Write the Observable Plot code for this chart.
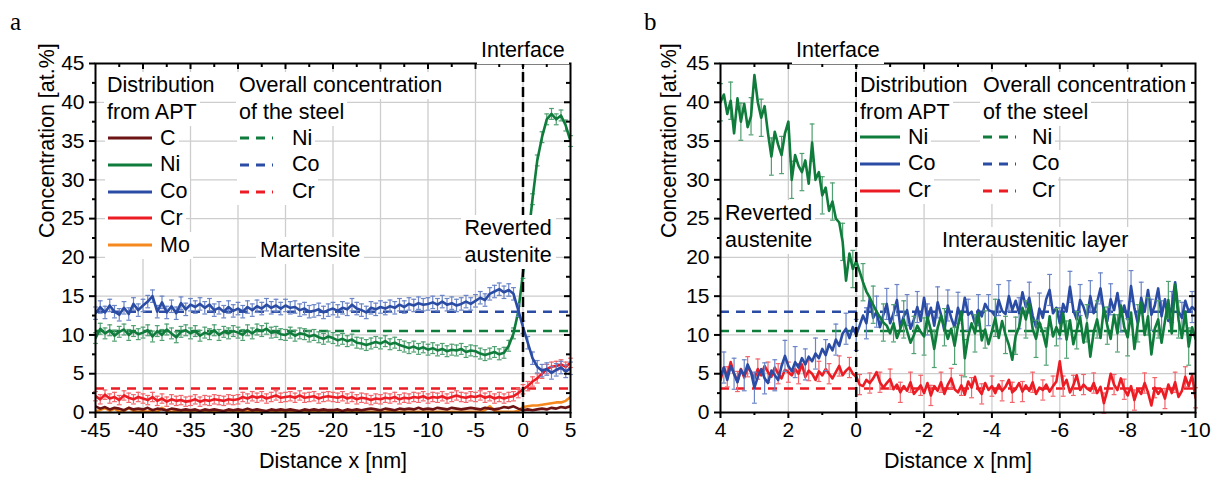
<!DOCTYPE html>
<html><head><meta charset="utf-8">
<script src="https://cdn.jsdelivr.net/npm/d3@7"></script>
<script src="https://cdn.jsdelivr.net/npm/@observablehq/plot@0.6"></script>
<style>
body{margin:0;background:#fff;font-family:"Liberation Sans",Arial,sans-serif;}
#wrap{position:relative;width:1223px;height:479px;overflow:hidden;background:#fff}
#pa{position:absolute;left:0;top:0}
#pb{position:absolute;left:611px;top:0}
.ov{position:absolute;white-space:nowrap;font-size:21.5px;line-height:27px;color:#000;}
.bg{background:#fff}
.row{display:flex;align-items:center;height:27px}
.lab{position:absolute;font-family:"Liberation Serif","Times New Roman",serif;font-size:25px;line-height:30px}
</style></head>
<body><div id="wrap"><div id="pa"></div><div id="pb"></div></div>
<script>
// ---------- ticks ----------
const xTicksA = [-45,-40,-35,-30,-25,-20,-15,-10,-5,0,5];
const xMinorA = [-42.5,-37.5,-32.5,-27.5,-22.5,-17.5,-12.5,-7.5,-2.5,2.5];
const xTicksB = [4,2,0,-2,-4,-6,-8,-10];
const xMinorB = [3,1,-1,-3,-5,-7,-9];
const yTicks = [0,5,10,15,20,25,30,35,40,45];
const yMinor = [2.5,7.5,12.5,17.5,22.5,27.5,32.5,37.5,42.5];

// ---------- colours ----------
const colors = {C:"#6d1515", Ni:"#0f7c3b", Co:"#2a4ca4", Cr:"#ec1c24", Mo:"#f5891f"};
const errColors = {C:"#9a5050", Ni:"#4f9f70", Co:"#6a84c6", Cr:"#f2646a", Mo:"#f7ad66"};

// ---------- overall concentration of the steel ----------
const overallElements = ["Ni","Co","Cr"];
const overallValues = [10.5, 13.0, 3.1];

// ---------- panel a : APT profile, x = -45 ... 5 nm, step 0.5 ----------
const xA = d3.range(101).map(i => -45 + i * 0.5);
const coA = [
 12.8,13.6,12.9,13.8,13.0,12.6,13.5,12.7,14.0,13.2,
 13.8,14.3,15.0,13.0,14.2,12.9,13.7,12.8,14.1,13.3,
 13.9,13.6,14.0,13.5,13.9,13.2,13.5,13.0,13.6,13.1,
 13.4,13.0,13.6,13.2,13.7,13.4,13.9,13.5,13.8,13.4,
 13.8,13.5,13.6,13.2,13.4,13.0,13.1,13.3,12.9,13.2,
 13.4,13.1,13.5,13.3,13.9,13.4,13.2,12.9,13.5,13.3,
 13.6,13.4,13.7,13.5,13.9,13.6,14.0,13.8,14.1,13.9,
 14.0,14.2,13.9,14.3,13.9,14.1,13.8,14.0,14.3,14.0,
 14.4,14.8,14.5,15.3,15.6,15.9,15.5,15.8,15.3,13.2,
 11.0,9.0,7.0,5.9,5.4,5.6,5.1,5.5,5.8,5.3,
 5.7];
const niA = [
 9.6,10.8,10.2,10.6,9.9,10.4,10.7,10.0,10.5,10.1,
 10.3,10.6,9.8,10.5,10.0,10.7,10.2,9.7,10.4,10.6,
 10.2,10.5,9.9,10.3,10.1,10.6,10.0,10.4,10.2,10.5,
 10.3,10.0,10.6,10.2,10.7,10.5,10.8,10.3,10.4,10.1,
 10.0,10.3,9.9,10.2,10.1,9.8,10.0,9.7,9.5,9.8,
 9.6,9.3,9.5,9.2,9.4,9.0,8.9,8.7,8.9,9.1,
 8.9,9.2,8.8,9.0,8.7,8.5,8.3,8.5,8.2,8.4,
 8.1,8.3,8.0,8.2,7.9,8.1,8.0,8.2,7.8,8.0,
 7.9,7.6,7.4,7.6,7.8,7.5,7.7,8.6,10.2,13.0,
 18.0,22.0,27.5,32.5,35.5,37.8,38.5,37.8,38.3,37.0,
 35.0];
const crA = [
 2.1,1.7,2.3,1.8,2.0,1.6,2.2,1.9,1.7,2.0,
 1.8,1.6,2.0,1.5,1.8,1.4,1.7,1.5,1.6,1.4,
 1.5,1.7,1.4,1.6,1.5,1.7,1.6,1.5,1.7,1.6,
 1.7,2.0,1.8,2.1,1.9,2.1,1.8,2.0,2.2,1.9,
 2.0,2.1,1.9,2.2,1.9,2.0,2.1,1.8,2.0,2.1,
 2.0,1.9,2.1,1.8,2.0,1.7,1.9,1.8,1.6,1.8,
 1.7,1.9,1.8,2.0,1.7,1.9,1.8,2.0,1.9,2.1,
 1.8,2.0,1.9,2.1,1.8,2.0,2.2,2.0,1.9,2.1,
 2.0,2.2,1.9,2.1,1.8,2.0,1.8,2.0,2.1,2.5,
 3.0,3.4,4.0,4.4,5.0,5.6,5.9,6.0,6.2,5.9,
 6.4];
const cA = [
 0.8,0.5,0.7,0.4,0.6,0.5,0.3,0.6,0.4,0.5,
 0.4,0.6,0.3,0.5,0.4,0.3,0.5,0.4,0.3,0.4,
 0.3,0.4,0.2,0.4,0.3,0.4,0.3,0.2,0.4,0.3,
 0.4,0.3,0.5,0.3,0.4,0.3,0.2,0.4,0.3,0.4,
 0.3,0.4,0.3,0.2,0.4,0.3,0.4,0.3,0.4,0.3,
 0.3,0.4,0.2,0.4,0.3,0.4,0.3,0.4,0.5,0.4,
 0.3,0.5,0.4,0.3,0.5,0.4,0.5,0.4,0.6,0.4,
 0.5,0.4,0.6,0.5,0.4,0.6,0.5,0.4,0.5,0.6,
 0.5,0.4,0.6,0.5,0.4,0.5,0.7,0.6,0.8,0.5,
 0.3,0.4,0.3,0.4,0.5,0.4,0.6,0.5,0.7,0.6,
 0.8];
const moA = [
 0.2,0.3,0.6,0.2,0.5,0.1,0.2,0.6,0.2,0.1,
 0.2,0.1,0.3,0.1,0.6,0.2,0.1,0.2,0.1,0.1,
 0.1,0.2,0.1,0.1,0.2,0.1,0.1,0.1,0.3,0.1,
 0.1,0.1,0.2,0.1,0.1,0.1,0.1,0.1,0.1,0.1,
 0.1,0.1,0.1,0.1,0.2,0.1,0.1,0.1,0.1,0.1,
 0.1,0.1,0.1,0.1,0.1,0.1,0.1,0.1,0.1,0.1,
 0.1,0.1,0.2,0.1,0.1,0.1,0.1,0.1,0.1,0.1,
 0.1,0.1,0.1,0.1,0.1,0.1,0.1,0.1,0.1,0.1,
 0.1,0.1,0.3,0.8,0.2,0.1,0.1,0.1,0.1,0.2,
 0.7,0.8,0.9,0.9,1.0,1.1,1.2,1.3,1.3,1.5,
 2.0];
const errA = {Ni:0.7, Co:0.8, Cr:0.6};

// ---------- panel b : APT profile, x = 4 ... -10 nm, step 0.1 ----------
const xB = d3.range(141).map(i => 4 - i * 0.1);
const niB = [
 40.0,41.0,38.5,40.2,36.0,40.5,37.5,39.8,36.8,38.2,
 43.5,40.0,38.0,39.5,36.0,33.0,36.2,34.5,33.2,36.0,
 37.5,30.0,33.2,31.8,31.0,32.5,29.5,34.8,30.0,31.0,
 28.0,29.0,26.0,27.2,25.0,24.5,22.0,17.0,20.5,18.5,
 19.5,18.2,16.8,15.6,14.8,13.9,13.0,12.3,11.6,11.2,
 10.2,11.5,9.6,10.8,12.0,10.5,9.0,10.0,11.2,10.4,
 9.8,12.3,10.6,8.2,10.9,12.5,11.0,9.5,10.8,8.6,
 11.2,13.0,7.0,9.8,11.5,10.2,12.8,9.3,10.7,8.8,
 10.5,12.2,9.6,11.8,10.0,8.7,6.8,9.9,11.0,13.5,
 12.0,14.0,10.8,9.5,11.6,10.3,8.5,12.4,9.8,11.0,
 10.0,12.8,9.4,11.9,8.8,10.6,12.3,9.0,11.5,7.2,
 10.4,12.0,9.6,13.5,11.2,9.5,12.6,10.2,13.8,11.0,
 9.7,12.9,8.2,11.5,14.2,10.0,12.4,7.5,10.8,12.0,
 9.0,11.8,14.5,10.2,16.5,12.0,9.6,13.0,8.5,11.0,
 9.5];
const coB = [
 4.6,5.8,4.2,6.0,5.0,3.9,5.5,4.8,6.2,5.2,
 3.2,4.6,5.6,4.4,3.8,5.4,4.8,4.2,6.0,7.3,
 6.0,5.3,6.5,5.8,7.0,6.2,7.2,6.6,7.6,7.0,
 8.2,7.4,8.8,8.0,9.4,8.6,10.2,10.8,9.6,11.0,
 10.0,11.2,12.5,11.5,14.7,12.2,13.0,11.0,12.6,14.0,
 11.5,12.8,14.5,11.0,12.4,13.2,10.8,12.0,13.6,11.8,
 14.8,12.0,13.5,11.2,14.2,12.6,10.5,13.8,12.2,11.0,
 13.5,12.0,14.8,12.6,13.0,11.5,13.2,12.4,14.0,13.2,
 13.0,12.4,14.5,13.1,12.7,15.0,13.2,14.4,12.8,15.5,
 13.6,14.8,12.5,11.0,13.4,12.2,14.6,15.8,12.8,13.5,
 11.5,14.0,13.0,16.2,13.2,12.0,14.5,13.6,12.2,15.0,
 12.8,14.2,16.0,13.0,11.8,14.6,13.2,15.4,12.4,13.8,
 12.0,16.3,13.4,11.5,14.8,13.0,15.8,12.6,13.8,16.0,
 12.4,14.6,11.8,13.6,16.8,13.0,12.2,14.4,13.0,13.6,
 13.2];
const crB = [
 4.2,5.8,4.6,6.5,5.0,4.0,5.6,4.5,5.9,5.2,
 4.4,5.6,4.8,6.0,5.2,4.6,5.8,5.0,4.4,5.5,
 5.2,4.8,5.6,5.0,6.2,4.6,5.4,5.0,4.2,5.3,
 4.8,5.6,5.0,4.4,5.2,6.0,4.8,5.4,5.8,5.0,
 4.6,3.6,3.4,4.2,3.8,4.4,5.2,3.9,3.2,3.8,
 4.3,3.0,3.6,2.6,3.4,2.8,3.9,2.4,2.9,3.5,
 2.5,3.8,2.2,3.4,2.8,3.9,2.4,3.6,4.4,3.0,
 2.6,3.5,2.3,4.0,3.2,4.6,3.0,2.4,3.8,2.9,
 3.4,2.5,3.6,2.8,3.3,4.2,2.6,3.0,3.8,2.7,
 3.5,2.8,3.9,2.4,3.2,2.9,3.6,2.7,3.4,4.0,
 6.6,3.4,4.2,2.6,3.5,4.8,2.9,3.6,3.1,2.8,
 3.8,2.5,3.3,1.2,2.8,5.0,3.6,2.9,4.4,3.0,
 2.2,3.4,1.6,3.0,2.4,3.8,2.6,0.9,3.2,2.4,
 3.0,1.8,3.6,2.5,3.9,2.0,2.8,4.6,3.4,4.8,
 1.9];
const errB = {Ni:2.4, Co:2.0, Cr:1.3};

// ---------- text ----------
const legendHeadA = ["Distribution","from APT"];
const legendHeadB = ["Overall concentration","of the steel"];
const legendSeriesA = ["C","Ni","Co","Cr","Mo"];
const legendSeriesB = ["Ni","Co","Cr"];

// ---------- helpers ----------
const FONT = '"Liberation Sans", Arial, sans-serif';
function rows(xs, vs){ return xs.map((x,i)=>({x, v: vs[i]})); }
function errRows(xs, vs, e, step, off){
  const out=[]; for(let i=off;i<xs.length;i+=step) out.push({x:xs[i], lo:vs[i]-e, hi:vs[i]+e});
  return out;
}
function errMarks(data, el, capHalf){
  const c = errColors[el];
  return [
    Plot.ruleX(data, {x:"x", y1:"lo", y2:"hi", stroke:c, strokeWidth:1.2}),
    Plot.link(data, {x1:d=>d.x-capHalf, x2:d=>d.x+capHalf, y1:"hi", y2:"hi", stroke:c, strokeWidth:1.2}),
    Plot.link(data, {x1:d=>d.x-capHalf, x2:d=>d.x+capHalf, y1:"lo", y2:"lo", stroke:c, strokeWidth:1.2})
  ];
}
function frameMarks(xMaj, xMin, xLeft, xRight, pxX){
  const uy = 45/349, ux = 1/pxX;
  const inwardTopMaj = xMaj.filter(d=>d!==xLeft && d!==xRight);
  const yInner = yTicks.filter(d=>d!==0 && d!==45);
  return [
    Plot.axisX(xMaj, {anchor:"bottom", tickSize:6, tickPadding:4, strokeWidth:2, tickFormat:d=>String(d), label:null, fontSize:21}),
    Plot.axisX(xMin, {anchor:"bottom", tickSize:3, strokeWidth:2, tickFormat:()=>"", label:null}),
    Plot.axisY(yTicks, {anchor:"left", tickSize:6, tickPadding:5, strokeWidth:2, tickFormat:d=>String(d), label:null, fontSize:21}),
    Plot.axisY(yMinor, {anchor:"left", tickSize:3, strokeWidth:2, tickFormat:()=>"", label:null}),
    Plot.ruleX(inwardTopMaj, {x:d=>d, y1:45, y2:45-6*uy, stroke:"black", strokeWidth:2}),
    Plot.ruleX(xMin, {x:d=>d, y1:45, y2:45-4*uy, stroke:"black", strokeWidth:2}),
    Plot.ruleY(yInner, {y:d=>d, x1:xRight, x2:xRight-6*ux, stroke:"black", strokeWidth:2}),
    Plot.ruleY(yMinor, {y:d=>d, x1:xRight, x2:xRight-4*ux, stroke:"black", strokeWidth:2}),
    Plot.frame({stroke:"black", strokeWidth:2})
  ];
}
const overall = overallElements.map((el,i)=>({el, v: overallValues[i]}));

// ---------- panel a ----------
const seriesA = {Mo: moA, C: cA, Cr: crA, Ni: niA, Co: coA};
const capA = 2.4/9.5;
const plotA = Plot.plot({
  width: 611, height: 479,
  marginLeft: 95, marginRight: 41, marginTop: 63, marginBottom: 67,
  x: {domain: [-45, 5]}, y: {domain: [0, 45]},
  style: {fontFamily: FONT, fontSize: "21px", color: "black", background: "white", overflow: "visible"},
  marks: [
    Plot.gridX(xTicksA.slice(1,-1), {stroke:"#cdcdcd", strokeOpacity:1, strokeWidth:1.3}),
    Plot.gridY(yTicks.slice(1,-1), {stroke:"#cdcdcd", strokeOpacity:1, strokeWidth:1.3}),
    Plot.ruleY(overall, {y:"v", stroke:d=>colors[d.el], strokeWidth:2.5, strokeDasharray:"9,7"}),
    ...["Mo","C","Cr","Ni","Co"].flatMap(el => [
      ...(errA[el] ? errMarks(errRows(xA, seriesA[el], errA[el], 1, 0), el, capA) : []),
      Plot.line(rows(xA, seriesA[el]), {x:"x", y:"v", stroke: colors[el], strokeWidth: 2.6, clip: true})
    ]),
    Plot.ruleX([0], {y1:0, y2:45, stroke:"black", strokeWidth:2.5, strokeDasharray:"10,5"}),
    Plot.text(["Distance x [nm]"], {frameAnchor:"bottom", dy:55, fontSize:21.5}),
    Plot.text(["Concentration [at.%]"], {frameAnchor:"left", rotate:-90, dx:-48, fontSize:21.5}),
    ...frameMarks(xTicksA, xMinorA, -45, 5, 9.5)
  ]
});
document.getElementById("pa").append(plotA);

// ---------- panel b ----------
const seriesB = {Cr: crB, Co: coB, Ni: niB};
const capB = 2.4/33.93;
const plotB = Plot.plot({
  width: 612, height: 479,
  marginLeft: 109, marginRight: 28, marginTop: 63, marginBottom: 67,
  x: {domain: [4, -10]}, y: {domain: [0, 45]},
  style: {fontFamily: FONT, fontSize: "21px", color: "black", background: "white", overflow: "visible"},
  marks: [
    Plot.gridX(xTicksB.slice(1,-1), {stroke:"#cdcdcd", strokeOpacity:1, strokeWidth:1.3}),
    Plot.gridY(yTicks.slice(1,-1), {stroke:"#cdcdcd", strokeOpacity:1, strokeWidth:1.3}),
    Plot.ruleY(overall, {y:"v", stroke:d=>colors[d.el], strokeWidth:2.5, strokeDasharray:"9,7"}),
    ...["Cr","Co","Ni"].flatMap(el => [
      ...errMarks(errRows(xB, seriesB[el], errB[el], 3, el==="Ni"?0:(el==="Co"?1:2)), el, capB),
      Plot.line(rows(xB, seriesB[el]), {x:"x", y:"v", stroke: colors[el], strokeWidth: 2.6, clip: true})
    ]),
    Plot.ruleX([0], {y1:0, y2:45, stroke:"black", strokeWidth:2.5, strokeDasharray:"10,5"}),
    Plot.text(["Distance x [nm]"], {frameAnchor:"bottom", dy:55, fontSize:21.5}),
    Plot.text(["Concentration [at.%]"], {frameAnchor:"left", rotate:-90, dx:-51, fontSize:21.5}),
    ...frameMarks(xTicksB, xMinorB, 4, -10, -33.93)
  ]
});
document.getElementById("pb").append(plotB);

// ---------- overlays (legends and annotations, white boxes) ----------
const wrap = document.getElementById("wrap");
function addDiv(html, left, top, cls, extra){
  const d = document.createElement("div");
  d.className = cls; d.innerHTML = html;
  d.style.left = left + "px"; d.style.top = top + "px";
  if (extra) Object.assign(d.style, extra);
  wrap.append(d); return d;
}
function textBox(lines, left, cyFirst, align){
  return addDiv(lines.map(t=>`<div class="bg" style="display:inline-block;padding:0 3px">${t}</div>`).join("<br>"),
    left, cyFirst - 13.5, "ov", {textAlign: align || "left"});
}
function centeredBox(lines, cx, cyFirst){
  const d = addDiv(lines.join("<br>"), 0, cyFirst - 13.5, "ov bg", {padding:"0 4px"});
  d.style.left = (cx - d.offsetWidth/2) + "px";
  return d;
}
function swatch(color, w, dashed){
  return `<svg width="${w}" height="10" style="display:block"><line x1="0" x2="${w}" y1="5" y2="5" stroke="${color}" stroke-width="3" ${dashed?'stroke-dasharray="9,7"':''}/></svg>`;
}
function legendRow(el, left, cy, w, gap, dashed){
  addDiv(`<div class="row">${swatch(colors[el], w, dashed)}<span style="margin-left:${gap}px">${el}</span></div>`,
    left - 3, cy - 13.5, "ov bg", {padding:"0 3px"});
}
// panel a legend
textBox(legendHeadA, 104, 85);
legendSeriesA.forEach((el,i)=> legendRow(el, 108, 138 + i*26.8, 44, 8, false));
textBox(legendHeadB, 236, 85);
legendSeriesB.forEach((el,i)=> legendRow(el, 240, 138 + i*26.8, 33, 19, true));
// panel b legend
textBox(legendHeadA, 857, 85);
legendSeriesB.forEach((el,i)=> legendRow(el, 860, 137 + i*26.8, 40, 8, false));
textBox(legendHeadB, 980, 85);
legendSeriesB.forEach((el,i)=> legendRow(el, 983, 137 + i*26.8, 33, 16, true));

// annotations
centeredBox(["Interface"], 523, 50);
centeredBox(["Interface"], 838, 50);
centeredBox(["Martensite"], 310, 250);
centeredBox(["Reverted","austenite"], 508, 228);
addDiv("Reverted<br>austenite", 722, 213 - 13.5, "ov bg", {padding:"0 3px"});
centeredBox(["Interaustenitic layer"], 1035, 240);

// panel letters
addDiv("a", 10, 7, "lab");
addDiv("b", 644, 7, "lab");
</script>
</body></html>
